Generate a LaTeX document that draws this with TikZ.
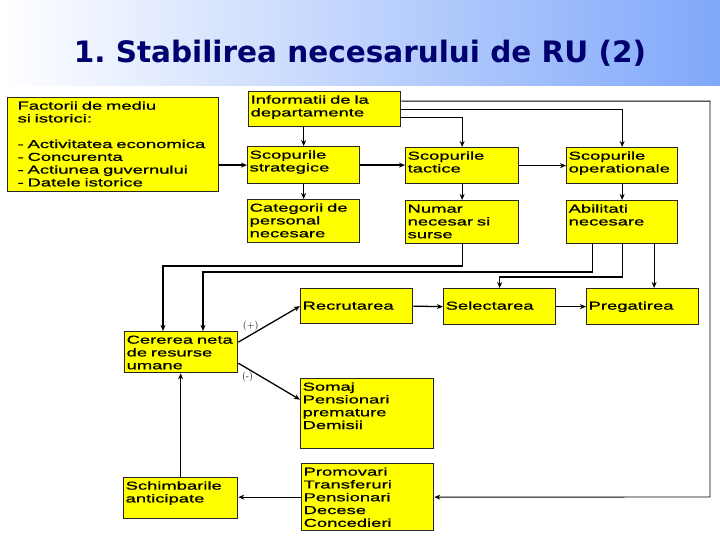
\documentclass[tikz,border=0pt]{standalone}
\usepackage{fontspec}
\usepackage{tikz}
\usetikzlibrary{arrows.meta}
\newfontfamily\boxfont{Liberation Sans}[FakeStretch=1.6, FakeBold=0.8]
\newfontfamily\headfont{DejaVu Sans}
\definecolor{ruYellow}{RGB}{255,255,0}
\definecolor{ruNavy}{RGB}{0,0,110}
\definecolor{ruBand}{RGB}{128,168,250}
\definecolor{ruMid}{RGB}{212,224,252}
\frenchspacing

\begin{document}
\begin{tikzpicture}[
    x=1pt, y=-1pt,
    >={Stealth[length=6pt,width=5pt]},
    ybox/.style={rectangle, draw=black!85, line width=1.3pt, fill=ruYellow, anchor=north west, align=left, inner sep=2pt, text height=10pt, font=\boxfont\fontsize{11.5}{12.8}\selectfont},
    one line/.style={text height=19pt},
    heading/.style={font=\headfont\bfseries\fontsize{29.5}{32}\selectfont, text=ruNavy, anchor=base},
    link/.style={->, line width=1.3pt},
    thin link/.style={->, line width=0.9pt},
    sign/.style={font=\fontsize{10}{11}\selectfont, inner sep=1pt}
]
  \shade[left color=white, middle color=ruMid, right color=ruBand] (0,0) rectangle (720,86);
  \useasboundingbox (0,0) rectangle (720,540);

  \node[heading] (title) at (360,63) {1. Stabilirea necesarului de RU (2)};

  % top rows
  \node[ybox, inner xsep=10pt, text width=191pt, text depth=80pt] (fact) at (7,97) {Factorii de mediu\\si istorici:\\[12.8pt]- Activitatea economica\\- Concurenta\\- Actiunea guvernului\\- Datele istorice};
  \node[ybox, text width=148pt, text depth=21pt] (info) at (248,91) {Informatii de la\\departamente};
  \node[ybox, text width=108pt, text depth=23pt] (strat) at (247,146) {Scopurile\\strategice};
  \node[ybox, text width=109pt, text depth=22pt] (tact) at (405,147) {Scopurile\\tactice};
  \node[ybox, text width=107pt, text depth=22pt] (oper) at (566,147) {Scopurile\\operationale};
  \node[ybox, text width=108pt, text depth=29pt] (categ) at (247,199) {Categorii de\\personal\\necesare};
  \node[ybox, text width=109pt, text depth=29pt] (numar) at (405,200) {Numar\\necesar si\\surse};
  \node[ybox, text width=107pt, text depth=29pt] (abil) at (566,200) {Abilitati\\necesare};

  % flow rows
  \node[ybox, one line, text width=108pt, text depth=12pt] (recrut) at (300,288) {Recrutarea};
  \node[ybox, one line, text width=108pt, text depth=13pt] (select) at (443,288) {Selectarea};
  \node[ybox, one line, text width=108pt, text depth=13pt] (pregat) at (586,288) {Pregatirea};
  \node[ybox, text width=109pt, text depth=27pt] (cerere) at (124,331) {Cererea neta\\de resurse\\umane};
  \node[ybox, text width=129pt, text depth=56pt] (somaj) at (300,378) {Somaj\\Pensionari\\premature\\Demisii};
  \node[ybox, text width=128pt, text depth=53pt] (promov) at (301,463) {Promovari\\Transferuri\\Pensionari\\Decese\\Concedieri};
  \node[ybox, text width=110pt, text depth=27pt] (schimb) at (123,477) {Schimbarile\\anticipate};

  \coordinate (rcorner) at (710,497);
  \coordinate (inA) at (163,266);
  \coordinate (inB) at (203,272);

  \draw[link] (strat.north |- info.south) -- (strat.north);
  \draw[link] (fact.east |- strat.west) -- (strat.west);
  \draw[link] (strat.east) -- (strat.east -| tact.west);
  \draw[thin link] (tact.east) -- (tact.east -| oper.west);
  \draw[link] (strat.south) -- (categ.north);
  \draw[link] (tact.south) -- (numar.north);
  \draw[link] (oper.south) -- (abil.north);
  \draw[thin link] ([yshift=-8pt]info.east) -| (tact.north);
  \draw[thin link] (info.east) -| (oper.north);
  \draw[thin link] ([yshift=8pt]info.east) -| (rcorner) -- (promov.east);

  \draw[link] (numar.south) |- (inA) -- (inA |- cerere.north);
  \draw[link] ([xshift=-29.5pt]abil.south) |- (inB) -- (inB |- cerere.north);
  \draw[link, line width=1.1pt] (abil.south) |- ([yshift=11pt]select.north) -- (select.north);
  \draw[link] ([xshift=32pt]abil.south) -- ([xshift=32pt]abil.south |- pregat.north);

  \draw[link] (recrut.east) -- (select.west);
  \draw[thin link] (select.east) -- (pregat.west);
  \draw[link] ([yshift=10pt]cerere.east) -- node[sign, pos=0.2, above=2pt] {(+)} (recrut.west);
  \draw[link] ([yshift=-11pt]cerere.east) -- node[sign, pos=0.15, below=2pt] {(-)} ([yshift=14pt]somaj.west);
  \draw[link] (promov.west) -- (promov.west -| schimb.east);
  \draw[link] (schimb.north) -- (schimb.north |- cerere.south);
\end{tikzpicture}
\end{document}
